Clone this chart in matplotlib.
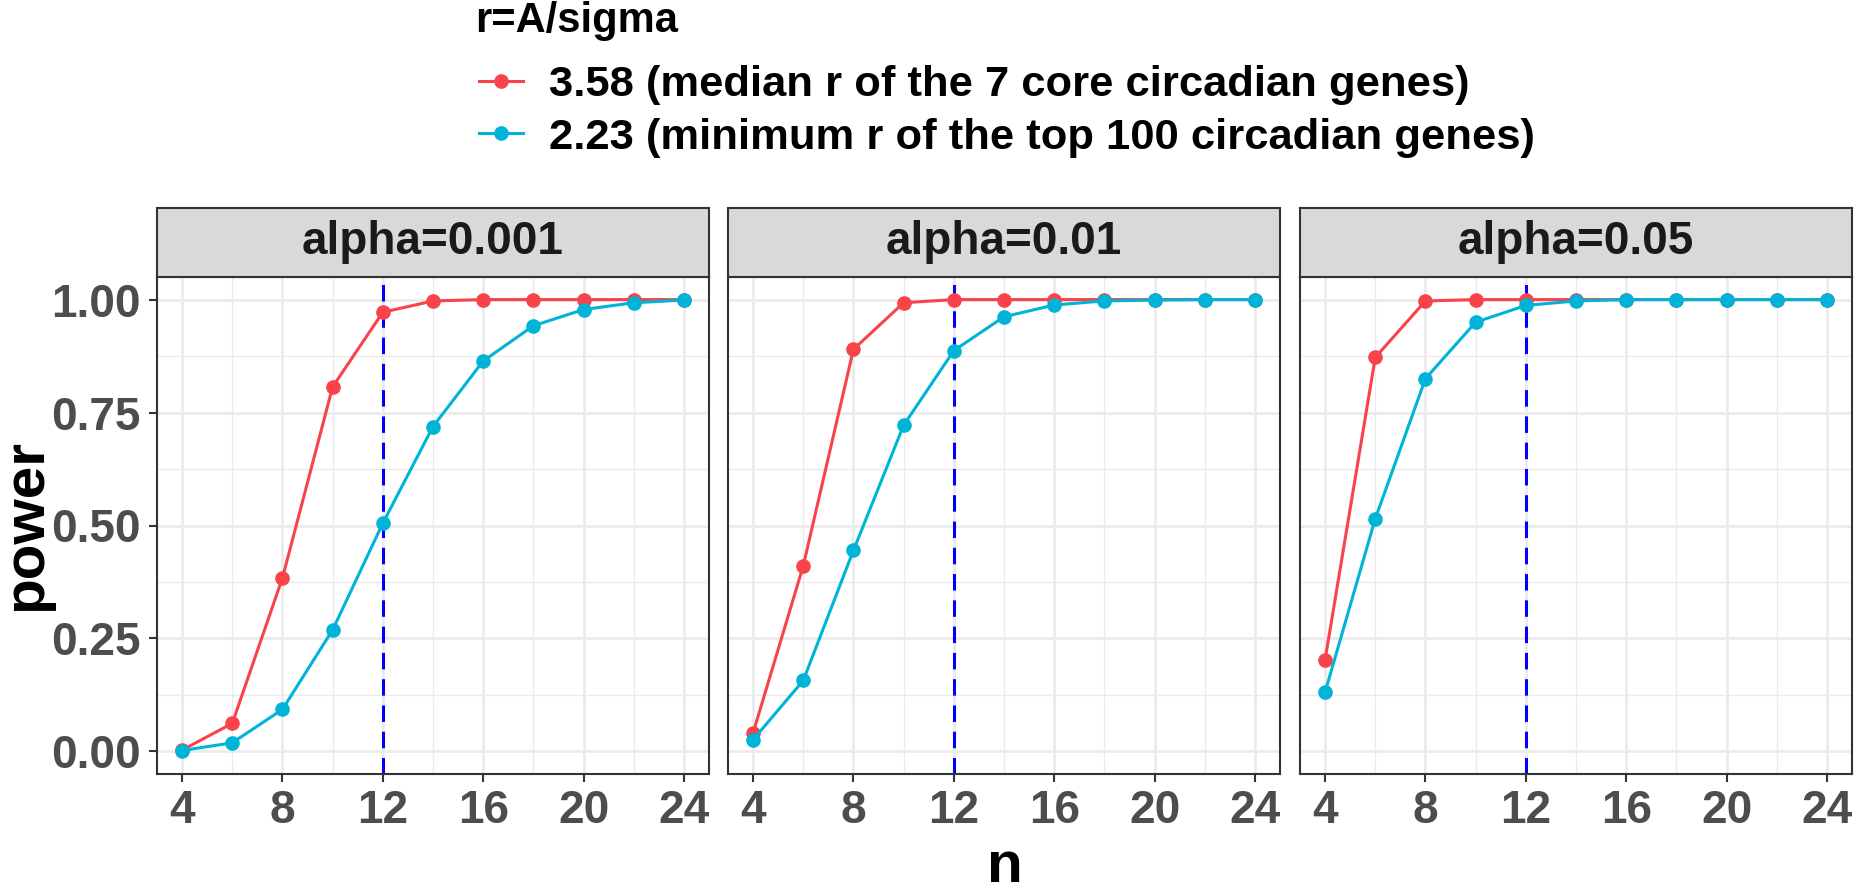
import numpy as np
import matplotlib.pyplot as plt
from matplotlib.ticker import MultipleLocator

plt.rcParams['font.family'] = ['Liberation Sans', 'DejaVu Sans']
plt.rcParams['font.weight'] = 'bold'

# data
n = [4, 6, 8, 10, 12, 14, 16, 18, 20, 22, 24]
alphas = ['alpha=0.001', 'alpha=0.01', 'alpha=0.05']
labels = ['3.58 (median r of the 7 core circadian genes)',
          '2.23 (minimum r of the top 100 circadian genes)']

r358_a001 = [0.003, 0.062, 0.384, 0.807, 0.972, 0.997, 1.0, 1.0, 1.0, 1.0, 1.0]
r223_a001 = [0.002, 0.019, 0.093, 0.269, 0.505, 0.719, 0.864, 0.942, 0.978, 0.993, 0.999]
r358_a01 = [0.041, 0.411, 0.890, 0.993, 1.0, 1.0, 1.0, 1.0, 1.0, 1.0, 1.0]
r223_a01 = [0.026, 0.157, 0.445, 0.722, 0.887, 0.962, 0.988, 0.997, 0.999, 1.0, 1.0]
r358_a05 = [0.203, 0.872, 0.997, 1.0, 1.0, 1.0, 1.0, 1.0, 1.0, 1.0, 1.0]
r223_a05 = [0.131, 0.515, 0.825, 0.950, 0.987, 0.997, 1.0, 1.0, 1.0, 1.0, 1.0]

n_ref = 12

series = [(r358_a001, r223_a001), (r358_a01, r223_a01), (r358_a05, r223_a05)]
colors = ['#F8434B', '#00B4D8']

W, H = 1854, 883
fig = plt.figure(figsize=(W / 100, H / 100), dpi=100)

lefts = [157, 728, 1300]
pw = 552
bottom, top, strip_top = 774, 277, 208

axes = []
for i, left in enumerate(lefts):
    ax = fig.add_axes([left / W, (H - bottom) / H, pw / W, (bottom - top) / H])
    axes.append(ax)
    ax.set_xlim(3, 25)
    ax.set_ylim(-0.05, 1.05)
    ax.xaxis.set_major_locator(MultipleLocator(4))
    ax.xaxis.set_minor_locator(MultipleLocator(2))
    ax.yaxis.set_major_locator(MultipleLocator(0.25))
    ax.yaxis.set_minor_locator(MultipleLocator(0.125))
    ax.grid(which='major', color='#EBEBEB', lw=2.0, zorder=0)
    ax.grid(which='minor', color='#EBEBEB', lw=1.0, zorder=0)
    ax.set_axisbelow(True)
    for s in ax.spines.values():
        s.set_color('#333333')
        s.set_linewidth(1.5)
    ax.tick_params(which='minor', length=0)
    ax.tick_params(which='major', length=6, width=1.5, color='#333333',
                   labelcolor='#4D4D4D', labelsize=33)
    ax.tick_params(axis='x', pad=5)
    ax.tick_params(axis='y', pad=6)
    ax.set_xticks([4, 8, 12, 16, 20, 24])
    ax.set_yticklabels([])
    if i == 0:
        ax.set_yticks([0, 0.25, 0.5, 0.75, 1.0])
        ax.set_yticklabels(['0.00', '0.25', '0.50', '0.75', '1.00'])
    else:
        ax.tick_params(axis='y', length=0)

    ax.axvline(n_ref, color='#0000FF', lw=2.2, dashes=(5.4, 3.2), zorder=1)
    red, blue = series[i]
    ax.plot(n, red, color=colors[0], lw=2.2, marker='o', ms=9.5, zorder=3, label=labels[0])
    ax.plot(n, blue, color=colors[1], lw=2.2, marker='o', ms=9.5, zorder=3, label=labels[1])

    # facet strip
    sax = fig.add_axes([left / W, (H - top) / H, pw / W, (top - strip_top) / H])
    sax.set_xticks([])
    sax.set_yticks([])
    sax.set_facecolor('#D9D9D9')
    for s in sax.spines.values():
        s.set_color('#333333')
        s.set_linewidth(1.5)
    sax.text(0.5, 0.5, alphas[i], ha='center', va='center', fontsize=33,
             color='#1A1A1A', fontweight='bold', transform=sax.transAxes)

fig.text(1004.5 / W, 1.5 / H, 'n', ha='center', va='baseline', fontsize=42, fontweight='bold')
fig.text(26 / W, (H - 525) / H, 'power', ha='center', va='center', rotation=90,
         fontsize=42, fontweight='bold')

# legend title and entries
fig.text(475 / W, 1 - 32 / H, 'r=A/sigma', ha='left', va='baseline',
         fontsize=30, fontweight='bold')
handles, lbls = axes[0].get_legend_handles_labels()
leg = fig.legend(handles, lbls, loc='upper left',
                 bbox_to_anchor=(462 / W, 1 - 48 / H), frameon=False, fontsize=31.3,
                 handlelength=1.0, handletextpad=0.6, labelspacing=0.28,
                 borderaxespad=0.0)

fig.savefig('out.png', dpi=100)
